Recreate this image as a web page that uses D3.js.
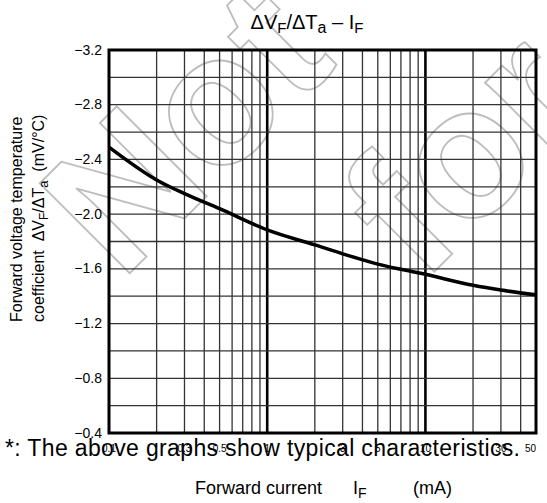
<!DOCTYPE html>
<html>
<head>
<meta charset="utf-8">
<script src="https://cdn.jsdelivr.net/npm/d3@7"></script>
<style>
  body { margin: 0; background: white; }
  text { font-family: 'Liberation Sans', Arial, sans-serif; fill: #000; white-space: pre; }
</style>
</head>
<body>
<main></main>
<script>
// forward current (mA) and temperature coefficient (mV/°C)
const currents = [0.1, 0.2, 0.3, 0.5, 1, 2, 3, 5, 10, 20, 30, 50];
const coefficients = [-2.49, -2.25, -2.15, -2.04, -1.885, -1.775, -1.71, -1.635, -1.56, -1.48, -1.445, -1.41];
const xTickLabels = [0.1, 0.3, 0.5, 1, 3, 5, 10, 30, 50];
const yTickLabels = [-3.2, -2.8, -2.4, -2.0, -1.6, -1.2, -0.8, -0.4];
const xDecades = [1, 10];

const width = 547;
const height = 503;
const plotLeft = 109;
const plotRight = 536;
const plotTop = 50;
const plotBottom = 433;
const gridColor = '#333';
const markColor = '#bdbdbd';

const xScale = d3.scaleLog()
  .domain([0.1, 50])
  .range([plotLeft, plotRight])

const yScale = d3.scaleLinear()
  .domain([-3.2, -0.4])
  .range([plotTop, plotBottom])

const svg = d3.select('main')
  .append('svg')
  .attr('width', width)
  .attr('height', height)
  .style('display', 'block')
  .style('background-color', 'white')

// watermark outline
const watermark = [['Not', 121, 282], ['for', 422, 284]];
svg.selectAll('.mark')
  .data(watermark)
  .enter()
  .append('text')
  .text(d => d[0])
  .attr('transform', d => `translate(${d[1]}, ${d[2]}) rotate(-45)`)
  .style('font-size', '185px')
  .style('font-weight', 'bold')
  .style('fill', 'none')
  .style('stroke', markColor)
  .style('stroke-width', 1.8)

// Grid
const grid = svg.append('g')

grid.selectAll('.vgrid')
  .data(xScale.ticks().filter(d => d > 0.1 && d < 50))
  .enter()
  .append('line')
  .attr('x1', d => xScale(d))
  .attr('x2', d => xScale(d))
  .attr('y1', plotTop)
  .attr('y2', plotBottom)
  .style('stroke', d => xDecades.includes(d) ? '#000' : gridColor)
  .style('stroke-width', d => xDecades.includes(d) ? 2.6 : 1.3)

grid.selectAll('.hgrid')
  .data(yScale.ticks(14).filter(d => d > -3.2 && d < -0.4))
  .enter()
  .append('line')
  .attr('x1', plotLeft)
  .attr('x2', plotRight)
  .attr('y1', d => yScale(d))
  .attr('y2', d => yScale(d))
  .style('stroke', gridColor)
  .style('stroke-width', 1.3)

// frame
svg.append('rect')
  .attr('x', plotLeft)
  .attr('y', plotTop)
  .attr('width', plotRight - plotLeft)
  .attr('height', plotBottom - plotTop)
  .style('fill', 'none')
  .style('stroke', '#000')
  .style('stroke-width', 3)

// curve
const line = d3.line()
  .x(d => xScale(d[0]))
  .y(d => yScale(d[1]))
  .curve(d3.curveMonotoneX)

svg.append('path')
  .datum(currents.map((c, i) => [c, coefficients[i]]))
  .attr('d', line)
  .style('fill', 'none')
  .style('stroke', '#000')
  .style('stroke-width', 3.5)

// y tick labels
svg.selectAll('.ylabel')
  .data(yTickLabels)
  .enter()
  .append('text')
  .text(d => d3.format('.1f')(d))
  .attr('x', plotLeft - 7)
  .attr('y', d => yScale(d) + 4.5)
  .attr('text-anchor', 'end')
  .style('font-size', '14px')

// x tick labels
svg.selectAll('.xlabel')
  .data(xTickLabels)
  .enter()
  .append('text')
  .text(d => d)
  .attr('x', d => xScale(d))
  .attr('y', 452)
  .attr('text-anchor', d => d === 50 ? 'end' : 'middle')
  .style('font-size', '10px')

// Title
const title = svg.append('text')
  .attr('x', 307)
  .attr('y', 29)
  .attr('text-anchor', 'middle')
  .style('font-size', '20px')
title.append('tspan').text('ΔV')
title.append('tspan').text('F').attr('dy', 4).style('font-size', '15px')
title.append('tspan').text('/ΔT').attr('dy', -4)
title.append('tspan').text('a').attr('dy', 4).style('font-size', '16px')
title.append('tspan').text(' – I').attr('dy', -4)
title.append('tspan').text('F').attr('dy', 4).style('font-size', '15px')

// y-axis title
svg.append('text')
  .text('Forward voltage temperature')
  .attr('transform', 'translate(22, 322) rotate(-90)')
  .style('font-size', '16px')

const yTitle = svg.append('text')
  .attr('transform', 'translate(44, 322) rotate(-90)')
  .style('font-size', '16px')
yTitle.append('tspan').text('coefficient  ΔV')
yTitle.append('tspan').text('F').attr('dy', 4).style('font-size', '12px')
yTitle.append('tspan').text('/ΔT').attr('dy', -4)
yTitle.append('tspan').text('a').attr('dy', 4).style('font-size', '13px')
yTitle.append('tspan').text('  (mV/°C)').attr('dy', -4)

// footnote
svg.append('text')
  .text('*: The above graphs show typical characteristics.')
  .attr('x', 5)
  .attr('y', 456)
  .attr('textLength', 515)
  .style('font-size', '23px')

// x-axis title
svg.append('text')
  .text('Forward current')
  .attr('x', 195)
  .attr('y', 494)
  .style('font-size', '18px')

const xUnit = svg.append('text')
  .attr('x', 353)
  .attr('y', 494)
  .style('font-size', '18px')
xUnit.append('tspan').text('I')
xUnit.append('tspan').text('F').attr('dy', 4).style('font-size', '14px')

svg.append('text')
  .text('(mA)')
  .attr('x', 452)
  .attr('y', 494)
  .attr('text-anchor', 'end')
  .style('font-size', '18px')
</script>
</body>
</html>
